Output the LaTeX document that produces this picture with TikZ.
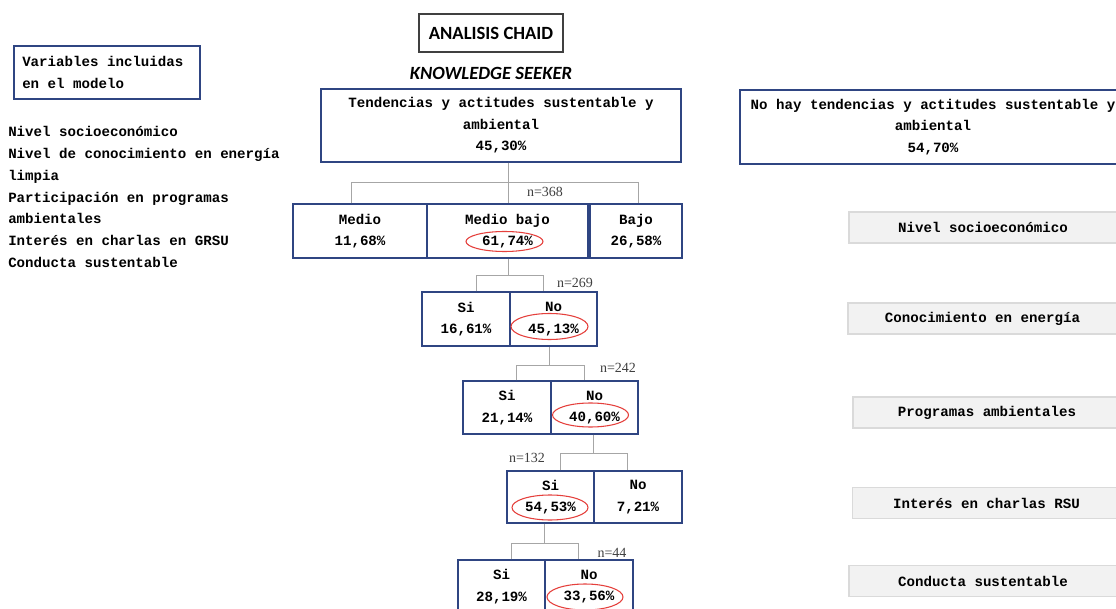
\documentclass[tikz,border=0pt]{standalone}
\usepackage{fontspec}
\setmonofont{Liberation Mono}
\newfontfamily\calib{Carlito}
\newfontfamily\timesf{Liberation Serif}
\usetikzlibrary{shapes.geometric}
\definecolor{navy}{HTML}{2F4582}
\definecolor{linkgray}{HTML}{A6A6A6}
\definecolor{redring}{HTML}{E5403C}
\definecolor{grayfill}{HTML}{F2F2F2}
\definecolor{grayline}{HTML}{DADADA}
\definecolor{labgray}{HTML}{404040}
\begin{document}
\begin{tikzpicture}[x=0.75pt,y=-0.75pt,
  font={\fontsize{10.6}{16.2}\selectfont\ttfamily\bfseries},
  cell/.style={draw=navy, line width=0.9pt, inner sep=0pt, align=center},
  gbox/.style={draw=grayline, fill=grayfill, line width=0.9pt, inner sep=0pt,
    minimum height=23.25pt},
  link/.style={draw=linkgray, line width=0.7pt},
  nlab/.style={font={\fontsize{10.5}{12}\selectfont\timesf}, text=labgray, inner sep=0pt},
  hilite/.style={ellipse, draw=redring, line width=0.8pt, inner sep=0pt}]
\clip (0,0) rectangle (1116,609);
\fill[white] (0,0) rectangle (1116,609);

% title and subtitle
\node[draw=labgray, line width=1.1pt, minimum width=108pt, minimum height=28.5pt, inner sep=0pt,
  font={\fontsize{14}{16}\selectfont\calib\bfseries}] (title) at (491,33) {ANALISIS CHAID};
\node[font={\fontsize{14}{16}\selectfont\calib\bfseries\itshape}] (seeker) at (491,73) {KNOWLEDGE SEEKER};

% variables panel
\node[cell, minimum width=139.5pt, minimum height=39.75pt] (varsbox) at (107,72.5) {};
\node[anchor=west, align=left, inner sep=0pt] (vars) at (22,72.5) {Variables incluidas\\en el modelo};
\node[anchor=west, align=left, inner sep=0pt, font={\fontsize{10.6}{16.3}\selectfont\ttfamily\bfseries}]
  (list) at (8,197) {Nivel socioeconómico\\Nivel de conocimiento en energía\\limpia\\Participación en programas\\ambientales\\Interés en charlas en GRSU\\Conducta sustentable};

% root outcomes
\node[cell, minimum width=270pt, minimum height=54.75pt] (root) at (501,125.5)
  {Tendencias y actitudes sustentable y\\ambiental\\45,30\%};
\node[cell, minimum width=289.5pt, minimum height=55.5pt] (nohay) at (933,127)
  {No hay tendencias y actitudes sustentable y\\ambiental\\54,70\%};

% level 1
\node[cell, minimum width=100.5pt, minimum height=40.5pt] (medio) at (360,231) {Medio\\11,68\%};
\node[cell, minimum width=120.75pt, minimum height=40.5pt] (mbajo) at (507.5,231) {Medio bajo\\61,74\%};
\node[cell, minimum width=69pt, minimum height=40.5pt] (bajo) at (636,231) {Bajo\\26,58\%};

% level 2
\node[cell, minimum width=66pt, minimum height=40.5pt] (si2) at (466,319) {Si\\16,61\%};
\node[cell, minimum width=65.25pt, minimum height=40.5pt] (no2) at (553.5,319) {No\\45,13\%};

% level 3
\node[cell, minimum width=66pt, minimum height=39.75pt] (si3) at (507,407.5) {Si\\21,14\%};
\node[cell, minimum width=65.25pt, minimum height=39.75pt] (no3) at (594.5,407.5) {No\\40,60\%};

% level 4
\node[cell, minimum width=65.25pt, minimum height=39pt] (si4) at (550.5,497) {Si\\54,53\%};
\node[cell, minimum width=66pt, minimum height=39pt] (no4) at (638,497) {No\\7,21\%};

% level 5
\node[cell, minimum width=65.25pt, minimum height=39.75pt] (si5) at (501.5,586.5) {Si\\28,19\%};
\node[cell, minimum width=66pt, minimum height=39.75pt] (no5) at (589,586.5) {No\\33,56\%};

% branch lines
\coordinate (b1l) at (351,182); \coordinate (b1r) at (638,182); \coordinate (b1m) at (508,182);
\draw[link] (b1m |- root.south) -- (b1m |- mbajo.north);
\draw[link] (b1l |- medio.north) -- (b1l) -- (b1r) -- (b1r |- bajo.north);

\coordinate (b2l) at (476,275); \coordinate (b2r) at (543,275); \coordinate (b2m) at (508,275);
\draw[link] (b2m |- mbajo.south) -- (b2m);
\draw[link] (b2l |- si2.north) -- (b2l) -- (b2r) -- (b2r |- no2.north);

\coordinate (b3l) at (516,365); \coordinate (b3r) at (584,365); \coordinate (b3m) at (549,365);
\draw[link] (b3m |- no2.south) -- (b3m);
\draw[link] (b3l |- si3.north) -- (b3l) -- (b3r) -- (b3r |- no3.north);

\coordinate (b4l) at (560,453); \coordinate (b4r) at (627,453); \coordinate (b4m) at (593,453);
\draw[link] (b4m |- no3.south) -- (b4m);
\draw[link] (b4l |- si4.north) -- (b4l) -- (b4r) -- (b4r |- no4.north);

\coordinate (b5l) at (511,543); \coordinate (b5r) at (578,543); \coordinate (b5m) at (544,543);
\draw[link] (b5m |- si4.south) -- (b5m);
\draw[link] (b5l |- si5.north) -- (b5l) -- (b5r) -- (b5r |- no5.north);

% sample sizes
\node[nlab] (n1) at (545,192) {n=368};
\node[nlab] (n2) at (575,283) {n=269};
\node[nlab] (n3) at (618,368) {n=242};
\node[nlab] (n4) at (527,458) {n=132};
\node[nlab] (n5) at (612,553) {n=44};

% highlighted percentages
\node[hilite, minimum width=57.75pt, minimum height=15pt] (r1) at (504.5,241.5) {};
\node[hilite, minimum width=57.75pt, minimum height=19.5pt] (r2) at (549.5,326.5) {};
\node[hilite, minimum width=57pt, minimum height=18pt] (r3) at (590.5,415) {};
\node[hilite, minimum width=57pt, minimum height=18.75pt] (r4) at (550,507.5) {};
\node[hilite, minimum width=57pt, minimum height=19.5pt] (r5) at (585,597) {};

% variable labels
\node[gbox, minimum width=201pt] (g1) at (983,227.5) {Nivel socioeconómico};
\node[gbox, minimum width=201.75pt] (g2) at (982.5,318.5) {Conocimiento en energía};
\node[gbox, minimum width=201pt] (g3) at (987,412.5) {Programas ambientales};
\node[gbox, minimum width=201pt] (g4) at (986.5,503) {Interés en charlas RSU};
\node[gbox, minimum width=201pt] (g5) at (983,581) {Conducta sustentable};
\end{tikzpicture}
\end{document}
